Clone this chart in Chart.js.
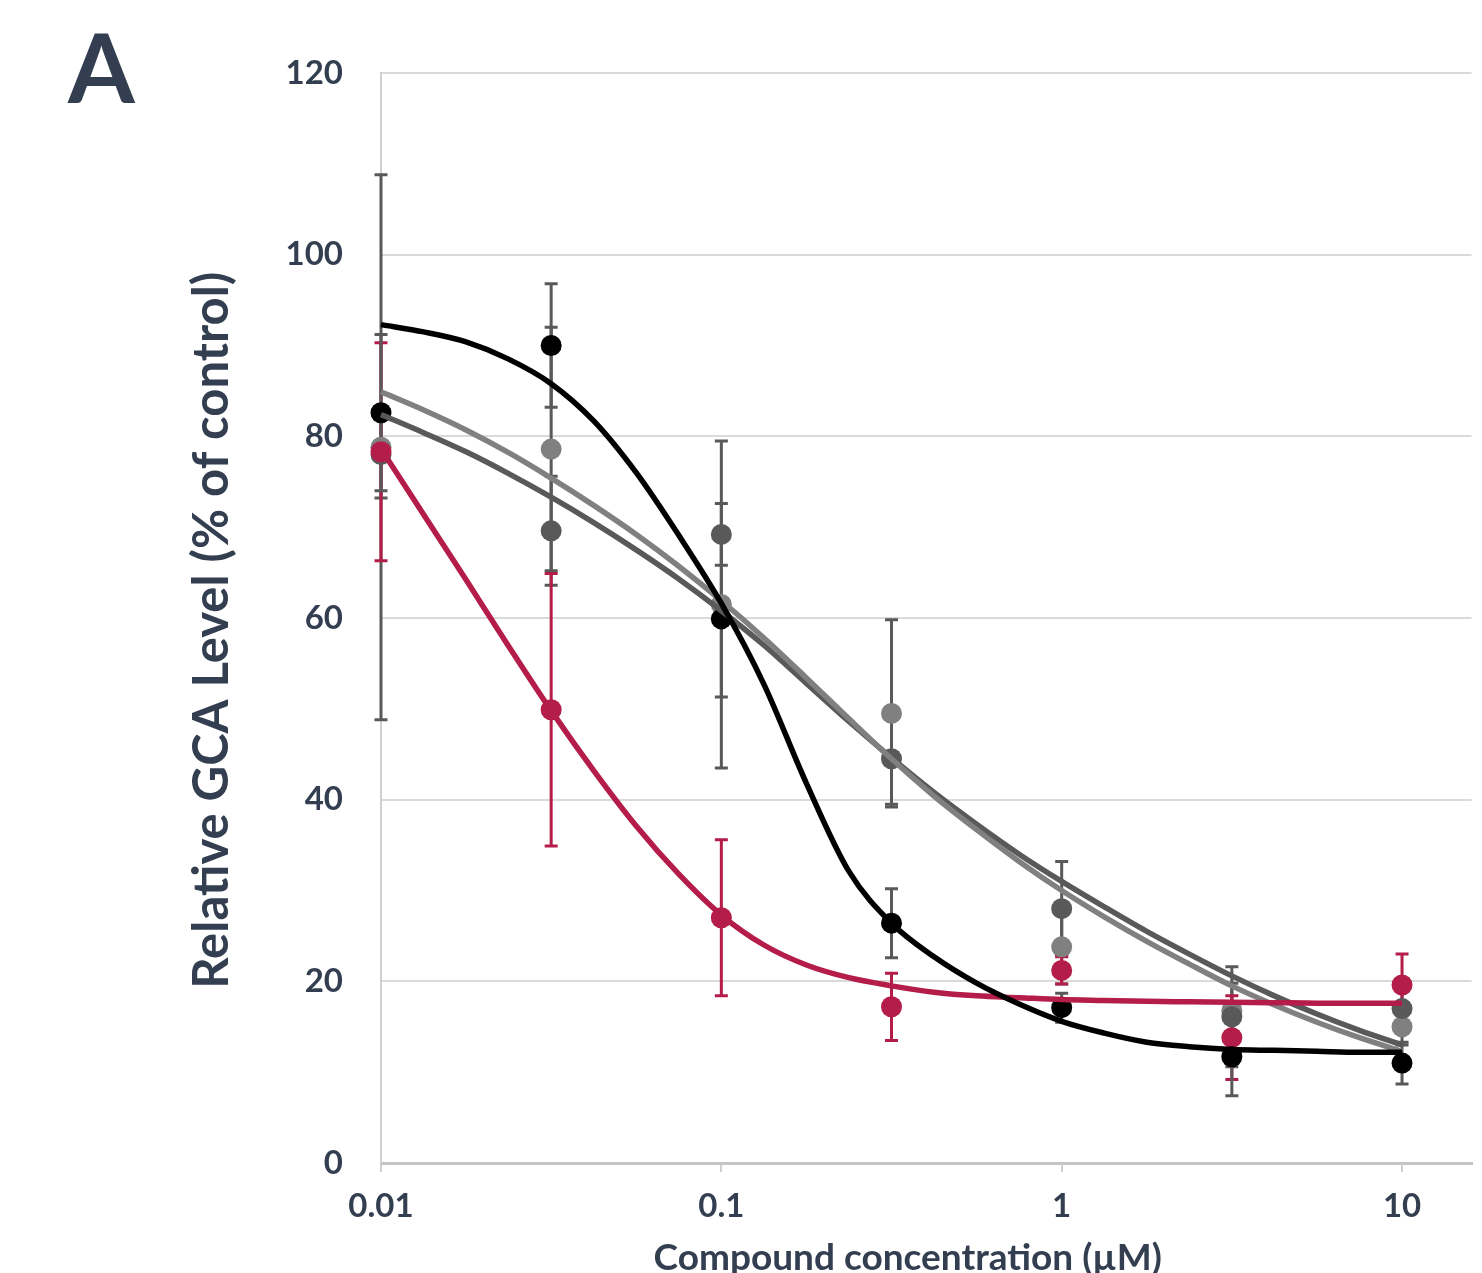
<!DOCTYPE html>
<html>
<head>
<meta charset="utf-8">
<script src="https://cdn.jsdelivr.net/npm/chart.js@4.4.1/dist/chart.umd.min.js"></script>
<style>
html, body { margin: 0; padding: 0; background: #ffffff; overflow: hidden; }
#wrap { position: relative; width: 1482px; height: 1273px; }
#panel { position: absolute; left: 68px; top: 18px; font: 700 96px Lato, sans-serif; line-height: 1; color: #333f50; }
canvas { display: block; }
</style>
</head>
<body>
<div id="wrap">
  <canvas id="c" width="1482" height="1273"></canvas>
  <div id="panel">A</div>
</div>
<script>
// ---- Measured data (concentration in µM, response in % of control) ----
const concentrations = [0.01, 0.03162, 0.1, 0.3162, 1, 3.162, 10];

const blackValues     = [82.6, 90.0, 59.9, 26.4, 17.1, 11.7, 11.0];
const blackErrors     = [8.6, 6.8, 8.6, 3.8, 1.6, 4.3, 2.3];
const redValues       = [78.3, 49.9, 27.0, 17.2, 21.2, 13.8, 19.6];
const redErrors       = [12.0, 15.0, 8.6, 3.7, 1.5, 4.6, 3.4];
const darkGrayValues  = [78.0, 69.6, 69.2, 44.5, 28.0, 16.1, 17.0];
const darkGrayErrors  = [4.8, 6.0, 3.4, 5.0, 5.2, 5.5, 2.0];
const lightGrayValues = [78.8, 78.6, 61.5, 49.5, 23.8, 16.8, 15.0];
const lightGrayErrors = [30.0, 13.4, 18.0, 10.3, 4.1, 3.0, 2.0];

// Fitted curves at these concentrations
const curveX = [0.01, 0.01334, 0.01778, 0.02371, 0.03162, 0.04217, 0.05623, 0.07499, 0.1,
                0.1334, 0.1778, 0.2371, 0.3162, 0.4217, 0.5623, 0.7499, 1,
                1.334, 1.778, 2.371, 3.162, 4.217, 5.623, 7.499, 10];
const blackCurve     = [92.3, 91.5, 90.4, 88.5, 85.8, 81.7, 76.0, 69.1, 61.6,
                        52.7, 41.8, 32.1, 26.4, 22.7, 19.8, 17.5, 15.6,
                        14.3, 13.3, 12.8, 12.5, 12.4, 12.3, 12.2, 12.2];
const redCurve       = [78.6, 71.4, 64.2, 56.9, 49.8, 43.2, 37.1, 31.8, 27.3,
                        24.0, 21.8, 20.4, 19.5, 18.8, 18.4, 18.2, 18.0,
                        17.9, 17.8, 17.75, 17.7, 17.65, 17.6, 17.6, 17.6];
const darkGrayCurve  = [82.4, 80.4, 78.3, 75.9, 73.3, 70.5, 67.5, 64.3, 60.8,
                        57.0, 52.8, 48.6, 44.6, 40.8, 37.3, 34.0, 31.0,
                        28.2, 25.5, 23.0, 20.6, 18.4, 16.4, 14.6, 13.0];
const lightGrayCurve = [84.9, 82.9, 80.7, 78.2, 75.4, 72.4, 69.2, 65.7, 61.9,
                        57.8, 53.4, 48.9, 44.5, 40.4, 36.7, 33.2, 30.0,
                        27.1, 24.4, 21.9, 19.5, 17.4, 15.5, 13.8, 12.3];

const xTickValues = [0.01, 0.1, 1, 10];
const xTickLabels = ['0.01', '0.1', '1', '10'];
const yTickStep = 20;

const xTitle = 'Compound concentration (\u00b5M)';
const yTitle = 'Relative GCA Level (% of control)';

// ---- Styles ----
const BLACK = '#000000', RED = '#b41c49', DARK = '#595959', LIGHT = '#808080';
const TEXT = '#333f50';
const FONT = 'Lato, "Open Sans", sans-serif';

function pts(xs, ys) { return xs.map((x, i) => ({ x: x, y: ys[i] })); }

function curveDs(values, color) {
  return {
    type: 'line', data: pts(curveX, values), borderColor: color, borderWidth: 5.5,
    pointRadius: 0, pointHoverRadius: 0, cubicInterpolationMode: 'monotone',
    fill: false, order: 1, clip: false
  };
}
function pointDs(values, errors, color, errColor) {
  return {
    type: 'scatter', data: pts(concentrations, values), errors: errors, errorColor: errColor,
    backgroundColor: color, borderColor: color, borderWidth: 0, pointRadius: 10.5,
    pointHoverRadius: 10.5, showLine: false, order: 2, clip: false
  };
}

const errorBarPlugin = {
  id: 'errorBars',
  beforeDatasetsDraw(chart) { chart.$errDrawn = false; },
  beforeDatasetDraw(chart, args) {
    const ds = chart.data.datasets[args.index];
    if (!ds.errors || chart.$errDrawn) return;
    chart.$errDrawn = true;
    const ctx = chart.ctx, xs = chart.scales.x, ys = chart.scales.y;
    ctx.save();
    ctx.lineWidth = 3;
    ctx.lineCap = 'butt';
    chart.data.datasets.slice().reverse().forEach(d => {
      if (!d.errors) return;
      ctx.strokeStyle = d.errorColor;
      d.data.forEach((p, i) => {
        const e = d.errors[i];
        if (!e) return;
        const x = xs.getPixelForValue(p.x);
        const y1 = ys.getPixelForValue(p.y + e);
        const y2 = ys.getPixelForValue(p.y - e);
        const w = 6.5;
        ctx.beginPath();
        ctx.moveTo(x, y1); ctx.lineTo(x, y2);
        ctx.moveTo(x - w, y1); ctx.lineTo(x + w, y1);
        ctx.moveTo(x - w, y2); ctx.lineTo(x + w, y2);
        ctx.stroke();
      });
    });
    ctx.restore();
  }
};

new Chart(document.getElementById('c'), {
  data: {
    datasets: [
      pointDs(blackValues, blackErrors, BLACK, DARK),
      pointDs(redValues, redErrors, RED, RED),
      pointDs(darkGrayValues, darkGrayErrors, DARK, DARK),
      pointDs(lightGrayValues, lightGrayErrors, LIGHT, DARK),
      curveDs(blackCurve, BLACK),
      curveDs(redCurve, RED),
      curveDs(lightGrayCurve, LIGHT),
      curveDs(darkGrayCurve, DARK)
    ]
  },
  options: {
    responsive: false,
    animation: false,
    layout: { padding: { top: 73, right: 4, bottom: 0, left: 0 } },
    plugins: { legend: { display: false }, tooltip: { enabled: false } },
    scales: {
      x: {
        type: 'logarithmic', min: 0.01, max: 16,
        afterBuildTicks: s => { s.ticks = xTickValues.map(v => ({ value: v, major: true })); },
        afterFit: s => { s.height = 110; },
        ticks: {
          autoSkip: false, maxRotation: 0, padding: 15, color: TEXT,
          font: { family: FONT, size: 33, weight: 'bold' },
          callback: (v, i) => xTickLabels[i]
        },
        grid: { drawOnChartArea: false, drawTicks: true, tickLength: 9, color: '#cfcfcf', lineWidth: 2 },
        border: { display: true, color: '#c4c4c4', width: 3 },
        title: {
          display: true, text: xTitle + '\u2002\u2002', color: TEXT,
          font: { family: FONT, size: 37, weight: 'bold' },
          padding: { top: 0, bottom: -7 }
        }
      },
      y: {
        min: 0, max: 120,
        afterFit: s => { s.width = 381; },
        ticks: {
          stepSize: yTickStep, padding: 38, color: TEXT,
          font: { family: FONT, size: 33, weight: 'bold' }
        },
        grid: { drawTicks: false, color: '#dadada', lineWidth: 2 },
        border: { display: true, color: '#d0d0d0', width: 2 },
        title: {
          display: true, text: yTitle + '\u2002', color: TEXT,
          font: { family: FONT, size: 49, weight: 'bold' },
          padding: { top: 183, bottom: 0 }
        }
      }
    }
  },
  plugins: [errorBarPlugin]
});
</script>
</body>
</html>
